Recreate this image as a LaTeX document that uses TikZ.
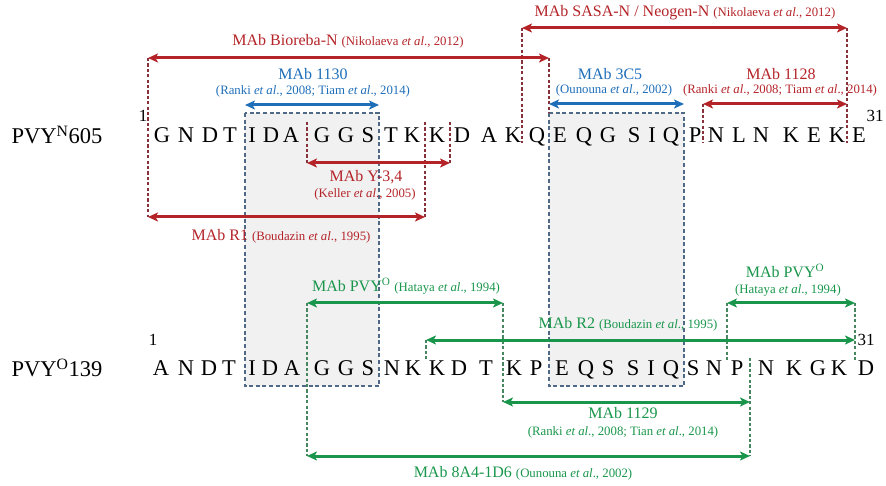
\documentclass[tikz,border=0pt]{standalone}
\usepackage{fontspec}
\setmainfont{Liberation Serif}
\usetikzlibrary{arrows.meta}
\definecolor{mabred}{RGB}{180,35,40}
\definecolor{mabblue}{RGB}{30,110,185}
\definecolor{mabgreen}{RGB}{25,150,75}
\definecolor{redline}{RGB}{135,50,58}
\definecolor{greenline}{RGB}{70,135,95}
\definecolor{boxline}{RGB}{80,105,135}
\definecolor{boxfill}{RGB}{241,241,242}
\newcommand{\refsize}{\fontsize{12.8}{14}\selectfont}
\begin{document}
\begin{tikzpicture}[x=1pt, y=-1pt,
    aa/.style={font=\fontsize{22.5}{24}\selectfont, inner sep=0pt, anchor=base},
    num/.style={font=\fontsize{17}{18}\selectfont, inner sep=0pt},
    mab/.style={font=\fontsize{16}{18}\selectfont, inner sep=0pt},
    cit/.style={font=\refsize, inner sep=0pt},
    epitope/.style={fill=boxfill, draw=boxline, line width=1.4pt, dash pattern=on 4pt off 2.6pt},
    rdash/.style={redline, line width=1.4pt, dash pattern=on 3.2pt off 2.2pt},
    gdash/.style={greenline, line width=1.4pt, dash pattern=on 3.2pt off 2.2pt},
    mabarrow/.style={line width=3pt, {Stealth[length=10pt,width=9pt,inset=2.5pt]}-{Stealth[length=10pt,width=9pt,inset=2.5pt]}}]
    \useasboundingbox (0,0) rectangle (886,486);

    % shaded epitope boxes
    \draw[epitope] (245,113) rectangle (379,386);
    \draw[epitope] (549,113) rectangle (684,386);

    % end points of the antibody ranges
    \coordinate (biorL) at (148,58);   \coordinate (biorR) at (549,58);
    \coordinate (sasaL) at (522,28);   \coordinate (sasaR) at (847,28);
    \coordinate (m1130L) at (245,105); \coordinate (m1130R) at (379,105);
    \coordinate (m3c5L) at (549,104);  \coordinate (m3c5R) at (684,104);
    \coordinate (m1128L) at (703,104); \coordinate (m1128R) at (847,104);
    \coordinate (y34L) at (307,163);   \coordinate (y34R) at (450,163);
    \coordinate (r1L) at (148,217);    \coordinate (r1R) at (425,217);
    \coordinate (pvyoL) at (307,303);  \coordinate (pvyoR) at (503,303);
    \coordinate (pvyo2L) at (727,303); \coordinate (pvyo2R) at (855,303);
    \coordinate (r2L) at (426,340);    \coordinate (r2R) at (855,340);
    \coordinate (m1129L) at (503,402); \coordinate (m1129R) at (750,402);
    \coordinate (m8a4L) at (307,456);  \coordinate (m8a4R) at (750,456);

    % dashed boundaries, PVY N
    \draw[rdash] (biorL) -- (r1L);
    \draw[rdash] (biorR) -- (549,113);
    \draw[rdash] (sasaL) -- (522,143);
    \draw[rdash] (sasaR) -- (847,143);
    \draw[rdash] (m1128L) -- (703,143);
    \draw[rdash] (307,122) -- (y34L);
    \draw[rdash] (450,122) -- (y34R);
    \draw[rdash] (425,122) -- (r1R);

    % dashed boundaries, PVY O
    \draw[gdash] (pvyoL) -- (m8a4L);
    \draw[gdash] (pvyoR) -- (m1129L);
    \draw[gdash] (pvyo2L) -- (727,360);
    \draw[gdash] (pvyo2R) -- (855,360);
    \draw[gdash] (r2L) -- (426,360);
    \draw[gdash] (750,358) -- (m8a4R);

    % sequences
    \node[aa, anchor=center] (seqN) at (57,135) {PVY\textsuperscript{N}605};
    \node[aa, anchor=center] (seqO) at (57,368) {PVY\textsuperscript{O}139};
    \foreach \x/\a [count=\i] in {162/G,186/N,210/D,230/T,252/I,271/D,291/A,322/G,346/G,368/S,
        391/T,412/K,437/K,462/D,489/A,513/K,537/Q,560/E,584/Q,608/G,634/S,652/I,671/Q,695/P,
        716/N,739/L,761/N,791/K,814/E,837/K,859/E}
        \node[aa] (n\i) at (\x,143) {\a};
    \foreach \x/\a [count=\i] in {161/A,186/N,209/D,229/T,252/I,270/D,292/A,322/G,346/G,368/S,
        392/N,413/K,437/K,459/D,486/T,514/K,536/P,562/E,586/Q,608/S,633/S,651/I,671/Q,693/S,
        714/N,737/P,766/N,794/K,818/G,839/K,866/D}
        \node[aa] (o\i) at (\x,375) {\a};
    \node[num] (n1no) at (143,116) {1};
    \node[num] (n31no) at (875,116) {31};
    \node[num] (o1no) at (153,340) {1};
    \node[num] (o31no) at (866,340) {31};

    % red antibodies
    \draw[mabarrow, mabred] (biorL) -- (biorR);
    \draw[mabarrow, mabred] (sasaL) -- (sasaR);
    \draw[mabarrow, mabred] (m1128L) -- (m1128R);
    \draw[mabarrow, mabred] (y34L) -- (y34R);
    \draw[mabarrow, mabred] (r1L) -- (r1R);
    \node[mab, mabred] (biorlab) at (348,41) {MAb Bioreba-N {\refsize (Nikolaeva \emph{et al}., 2012)}};
    \node[mab, mabred] (sasalab) at (685,13) {MAb SASA-N / Neogen-N {\refsize (Nikolaeva \emph{et al}., 2012)}};
    \node[mab, mabred] (m1128lab) at (781,74) {MAb 1128};
    \node[cit, mabred] (m1128cit) at (780,90) {(Ranki \emph{et al}., 2008; Tiam \emph{et al}., 2014)};
    \node[mab, mabred] (y34lab) at (366,177) {MAb Y-3,4};
    \node[cit, mabred] (y34cit) at (365,194) {(Keller \emph{et al}., 2005)};
    \node[mab, mabred] (r1lab) at (281,236) {MAb R1 {\refsize (Boudazin \emph{et al}., 1995)}};

    % blue antibodies
    \draw[mabarrow, mabblue] (m1130L) -- (m1130R);
    \draw[mabarrow, mabblue] (m3c5L) -- (m3c5R);
    \node[mab, mabblue] (m1130lab) at (313,74) {MAb 1130};
    \node[cit, mabblue] (m1130cit) at (313,91) {(Ranki \emph{et al}., 2008; Tiam \emph{et al}., 2014)};
    \node[mab, mabblue] (m3c5lab) at (610,74) {MAb 3C5};
    \node[cit, mabblue] (m3c5cit) at (614,90) {(Ounouna \emph{et al}., 2002)};

    % green antibodies
    \draw[mabarrow, mabgreen] (pvyoL) -- (pvyoR);
    \draw[mabarrow, mabgreen] (pvyo2L) -- (pvyo2R);
    \draw[mabarrow, mabgreen] (r2L) -- (r2R);
    \draw[mabarrow, mabgreen] (m1129L) -- (m1129R);
    \draw[mabarrow, mabgreen] (m8a4L) -- (m8a4R);
    \node[mab, mabgreen] (pvyolab) at (406,286) {MAb PVY\textsuperscript{O} {\refsize (Hataya \emph{et al}., 1994)}};
    \node[mab, mabgreen] (pvyo2lab) at (785,271) {MAb PVY\textsuperscript{O}};
    \node[cit, mabgreen] (pvyo2cit) at (788,290) {(Hataya \emph{et al}., 1994)};
    \node[mab, mabgreen] (r2lab) at (628,324) {MAb R2 {\refsize (Boudazin \emph{et al}., 1995)}};
    \node[mab, mabgreen] (m1129lab) at (623,413) {MAb 1129};
    \node[cit, mabgreen] (m1129cit) at (623,432) {(Ranki \emph{et al}., 2008; Tian \emph{et al}., 2014)};
    \node[mab, mabgreen] (m8a4lab) at (523,473) {MAb 8A4-1D6 {\refsize (Ounouna \emph{et al}., 2002)}};
\end{tikzpicture}
\end{document}
